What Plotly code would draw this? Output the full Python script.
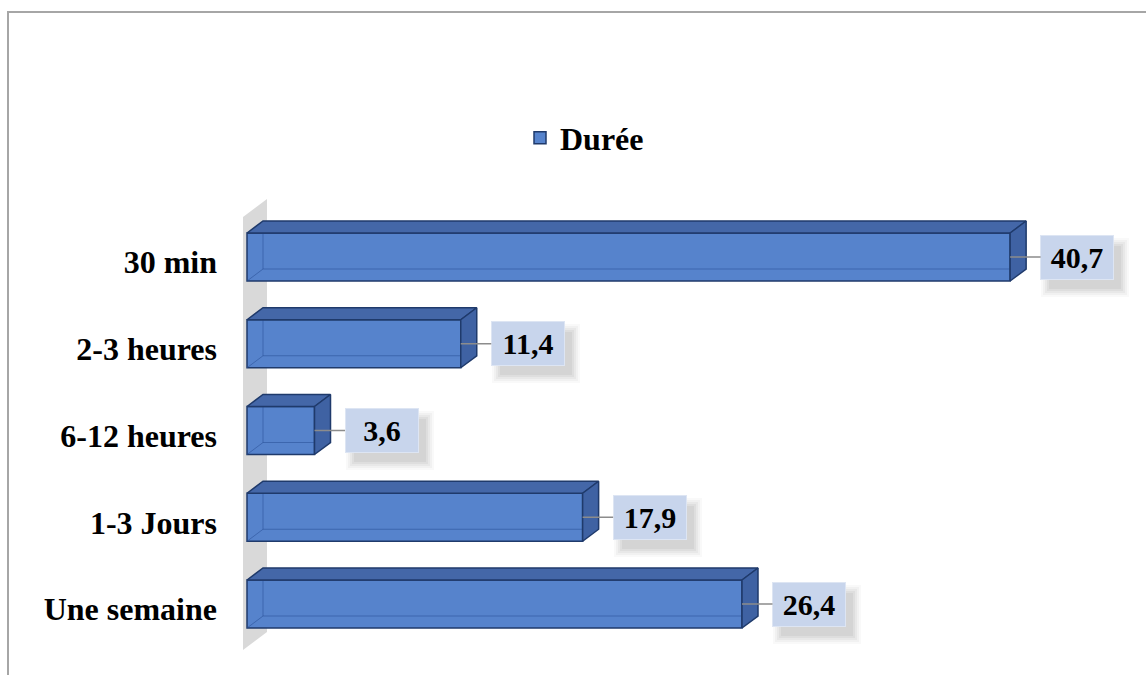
import plotly.graph_objects as go

# Survey data: duration categories (top to bottom) and their percentages
categories = ["30 min", "2-3 heures", "6-12 heures", "1-3 Jours", "Une semaine"]
durations = [40.7, 11.4, 3.6, 17.9, 26.4]
value_labels = ["40,7", "11,4", "3,6", "17,9", "26,4"]
series_name = "Durée"

# Figure geometry (pixels)
W, H = 1146, 675
L, R, T, B = 222, 20, 190, 15
plot_w, plot_h = W - L - R, H - T - B
px_per_x = 18.75
px_per_y = 86.75
x0_px = 247          # pixel column of value 0
top_center_px = 257  # pixel row of the first category

x_min = -(x0_px - L) / px_per_x
x_max = x_min + plot_w / px_per_x
n = len(categories)
pos = [n - 1 - i for i in range(n)]
y_max = (n - 1) + (top_center_px - T) / px_per_y
y_min = y_max - plot_h / px_per_y

# 3-D look: depth of bars and of the side wall, in data units
bar_w = 48 / px_per_y
dx, dy = 16 / px_per_x, 12 / px_per_y
wall_front = -4 / px_per_x
wall_dx, wall_dy = 24 / px_per_x, 18 / px_per_y
wall_bottom = y_min + (660 - 650) / px_per_y
wall_top = y_max - (217 - T) / px_per_y

FRONT = "#5683cc"
TOP = "#4467a8"
SIDE = "#3f62a3"
EDGE = "#1f3a6b"
INNER = "rgba(40,78,150,0.55)"
FONT = "Liberation Serif"

fig = go.Figure()

# front faces of the bars
fig.add_trace(go.Bar(
    x=durations, y=pos, orientation="h", width=bar_w, name=series_name,
    marker=dict(color=FRONT, line=dict(color=EDGE, width=1.5)),
    hoverinfo="skip", showlegend=True))

for v, p in zip(durations, pos):
    lo, hi = p - bar_w / 2, p + bar_w / 2
    # edges seen through the front face
    fig.add_trace(go.Scatter(
        x=[0, dx, v + dx, None, dx, dx],
        y=[lo, lo + dy, lo + dy, None, lo + dy, hi],
        mode="lines", line=dict(color=INNER, width=1),
        hoverinfo="skip", showlegend=False))
    # top face
    fig.add_trace(go.Scatter(
        x=[0, v, v + dx, dx, 0], y=[hi, hi, hi + dy, hi + dy, hi],
        mode="lines", fill="toself", fillcolor=TOP,
        line=dict(color=EDGE, width=1.5), hoverinfo="skip", showlegend=False))
    # end face
    fig.add_trace(go.Scatter(
        x=[v, v + dx, v + dx, v, v], y=[lo, lo + dy, hi + dy, hi, lo],
        mode="lines", fill="toself", fillcolor=SIDE,
        line=dict(color=EDGE, width=1.5), hoverinfo="skip", showlegend=False))

annotations = []
box_w, box_h, gap = 72, 43, 31
for v, p, txt in zip(durations, pos, value_labels):
    cx = gap + box_w / 2
    # soft drop shadow under each value box
    for grow, alpha in [(16, 0.025), (12, 0.03), (8, 0.035), (4, 0.04), (0, 0.045)]:
        annotations.append(dict(
            x=v, y=p, xref="x", yref="y", text=" ", showarrow=False,
            xanchor="center", yanchor="middle", xshift=cx + 8, yshift=-10,
            width=box_w + grow, height=box_h + grow, bgcolor=f"rgba(0,0,0,{alpha})",
            borderpad=0, borderwidth=0))
    annotations.append(dict(
        x=v, y=p, xref="x", yref="y", text=txt, showarrow=True,
        arrowhead=0, arrowwidth=1.5, arrowcolor="#8c8c8c", ax=cx, ay=0,
        width=box_w, height=box_h, bgcolor="#c8d5ec", bordercolor="#dde5f3",
        borderwidth=1, borderpad=0,
        font=dict(family=FONT, size=30, color="black", weight="bold")))


def px_x(px):
    return (px - L) / plot_w


def px_y(py):
    return (H - B - py) / plot_h


wall_path = (f"M{wall_front},{wall_bottom} L{wall_front + wall_dx},{wall_bottom + wall_dy} "
             f"L{wall_front + wall_dx},{wall_top + wall_dy} L{wall_front},{wall_top} Z")

fig.update_layout(
    width=W, height=H,
    margin=dict(l=L, r=R, t=T, b=B),
    paper_bgcolor="white", plot_bgcolor="white",
    barmode="overlay",
    xaxis=dict(range=[x_min, x_max], visible=False, fixedrange=True),
    yaxis=dict(range=[y_min, y_max], tickvals=[p - 0.06 for p in pos],
               ticktext=categories, showgrid=False, zeroline=False,
               showline=False, ticks="", ticklabelstandoff=4,
               tickfont=dict(family=FONT, size=32, color="black", weight="bold")),
    showlegend=True,
    legend=dict(x=px_x(520), y=px_y(138), xanchor="left", yanchor="middle",
                orientation="h", bgcolor="rgba(0,0,0,0)",
                font=dict(family=FONT, size=32, color="black", weight="bold")),
    annotations=annotations,
    shapes=[
        # chart frame
        dict(type="rect", xref="paper", yref="paper",
             x0=px_x(8), x1=px_x(W + 10), y0=px_y(H + 10), y1=px_y(12),
             line=dict(color="#a6a6a6", width=2), layer="below"),
        # side wall behind the bars
        dict(type="path", xref="x", yref="y", path=wall_path,
             fillcolor="#d9d9d9", line=dict(width=0), layer="below"),
    ],
)

fig.write_html("out.html")
